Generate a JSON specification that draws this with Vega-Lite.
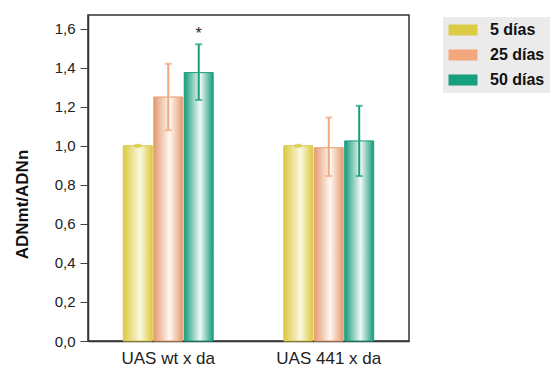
{
  "$schema": "https://vega.github.io/schema/vega-lite/v6.json",
  "autosize": {"type": "none"},
  "padding": {"left": 88, "top": 15, "right": 144, "bottom": 25},
  "width": 321,
  "height": 326,
  "background": "white",
  "config": {
    "font": "Liberation Sans",
    "view": {"stroke": "#333", "strokeWidth": 1.5}
  },
  "data": {
    "values": [
      {"group": "UAS wt x da", "series": "5 días", "mean": 1.0, "lo": 0.995, "hi": 1.005},
      {"group": "UAS wt x da", "series": "25 días", "mean": 1.25, "lo": 1.08, "hi": 1.42},
      {"group": "UAS wt x da", "series": "50 días", "mean": 1.375, "lo": 1.235, "hi": 1.52},
      {"group": "UAS 441 x da", "series": "5 días", "mean": 1.0, "lo": 0.995, "hi": 1.005},
      {"group": "UAS 441 x da", "series": "25 días", "mean": 0.99, "lo": 0.845, "hi": 1.145},
      {"group": "UAS 441 x da", "series": "50 días", "mean": 1.025, "lo": 0.845, "hi": 1.205}
    ]
  },
  "encoding": {
    "x": {
      "field": "group", "type": "nominal", "sort": ["UAS wt x da", "UAS 441 x da"],
      "scale": {"paddingInner": 0.44, "paddingOuter": 0.22},
      "axis": {"title": null, "ticks": false, "labelAngle": 0, "labelFontSize": 17, "labelPadding": 9, "labelColor": "#222", "domainColor": "#333", "domainWidth": 1.5}
    },
    "xOffset": {"field": "series", "type": "nominal", "sort": ["5 días", "25 días", "50 días"], "scale": {"domain": ["5 días", "25 días", "50 días"], "paddingInner": 0.05, "paddingOuter": 0}}
  },
  "layer": [
    {
      "transform": [{"filter": "datum.series === '5 días'"}],
      "mark": {"type": "bar", "strokeWidth": 1, "stroke": "#d9c640",
        "fill": {"gradient": "linear", "x1": 0, "y1": 0, "x2": 1, "y2": 0, "stops": [{"offset": 0, "color": "#dcc940"}, {"offset": 0.58, "color": "#fbf8e2"}, {"offset": 1, "color": "#dcc940"}]}},
      "encoding": {
        "y": {
          "field": "mean", "type": "quantitative",
          "scale": {"domain": [0, 1.67], "nice": false, "zero": true},
          "axis": {
            "title": "ADNmt/ADNn", "titleFontSize": 17, "titleFontWeight": "bold", "titleColor": "#111", "titlePadding": 23, "titleY": 189,
            "values": [0, 0.2, 0.4, 0.6, 0.8, 1.0, 1.2, 1.4, 1.6],
            "labelExpr": "replace(format(datum.value, '.1f'), '.', ',')",
            "labelFontSize": 15, "labelColor": "#222", "labelPadding": 5, "tickSize": 8, "tickColor": "#444", "domainColor": "#333", "domainWidth": 1.5, "grid": false
          }
        }
      }
    },
    {
      "transform": [{"filter": "datum.series === '25 días'"}],
      "mark": {"type": "bar", "strokeWidth": 1, "stroke": "#e99d72",
        "fill": {"gradient": "linear", "x1": 0, "y1": 0, "x2": 1, "y2": 0, "stops": [{"offset": 0, "color": "#e39a6e"}, {"offset": 0.55, "color": "#fff8f3"}, {"offset": 1, "color": "#e39a6e"}]}},
      "encoding": {"y": {"field": "mean", "type": "quantitative"}}
    },
    {
      "transform": [{"filter": "datum.series === '50 días'"}],
      "mark": {"type": "bar", "strokeWidth": 1, "stroke": "#179e7e",
        "fill": {"gradient": "linear", "x1": 0, "y1": 0, "x2": 1, "y2": 0, "stops": [{"offset": 0, "color": "#169c7c"}, {"offset": 0.55, "color": "#f2f8f5"}, {"offset": 1, "color": "#169c7c"}]}},
      "encoding": {"y": {"field": "mean", "type": "quantitative"}}
    },
    {
      "mark": {"type": "rule", "strokeWidth": 2},
      "encoding": {
        "y": {"field": "lo", "type": "quantitative"},
        "y2": {"field": "hi"},
        "stroke": {
          "field": "series", "type": "nominal",
          "scale": {"domain": ["5 días", "25 días", "50 días"], "range": ["#dccb45", "#f2a77c", "#179e7e"]},
          "legend": {
            "orient": "none", "legendX": 355, "legendY": 2, "title": null,
            "fillColor": "#ebebeb", "padding": 5, "rowPadding": 9,
            "symbolType": "M-2,-0.76H2V0.76H-2Z", "symbolSize": 210, "symbolOffset": 7, "symbolStrokeWidth": 0,
            "labelFontSize": 16, "labelFontWeight": "bold", "labelColor": "#111", "labelOffset": 19
          }
        }
      }
    },
    {
      "mark": {"type": "tick", "orient": "horizontal", "size": 7, "thickness": 2},
      "encoding": {
        "y": {"field": "hi", "type": "quantitative"},
        "color": {"field": "series", "type": "nominal", "scale": {"domain": ["5 días", "25 días", "50 días"], "range": ["#dccb45", "#f2a77c", "#179e7e"]}, "legend": null}
      }
    },
    {
      "mark": {"type": "tick", "orient": "horizontal", "size": 7, "thickness": 2},
      "encoding": {
        "y": {"field": "lo", "type": "quantitative"},
        "color": {"field": "series", "type": "nominal", "legend": null}
      }
    },
    {
      "data": {"values": [{"group": "UAS wt x da", "series": "50 días", "y": 1.545, "label": "*"}]},
      "mark": {"type": "text", "fontSize": 16, "color": "#222", "baseline": "alphabetic"},
      "encoding": {
        "y": {"field": "y", "type": "quantitative"},
        "text": {"field": "label"}
      }
    }
  ]
}
